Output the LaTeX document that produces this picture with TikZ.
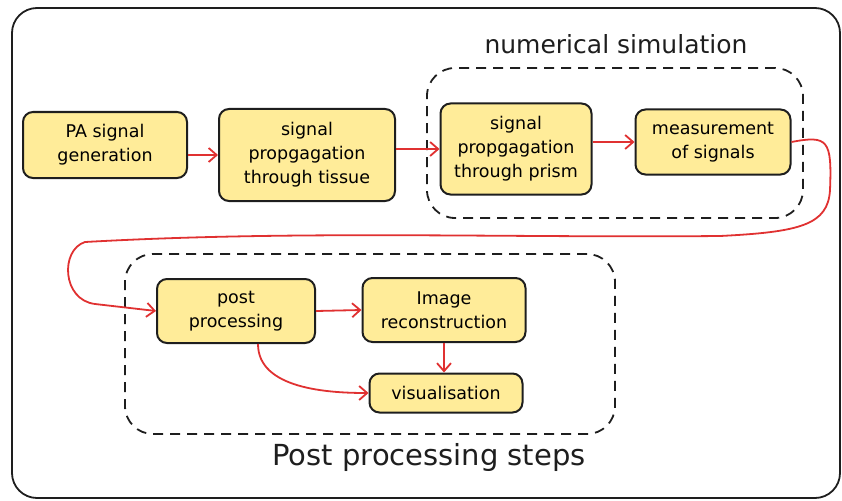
\documentclass[tikz,border=0pt]{standalone}
\usepackage{fontspec}
\setmainfont{DejaVu Sans}
\usetikzlibrary{arrows.meta}
\definecolor{stageyellow}{HTML}{FFEC99}
\definecolor{inkgray}{HTML}{1E1E1E}
\definecolor{flowred}{HTML}{E03131}
\tikzset{
  stage/.style={draw=inkgray, line width=2pt, fill=stageyellow, rounded corners=10pt,
    align=center, inner sep=0pt, font=\fontsize{17.5}{24}\selectfont},
  group/.style={draw=inkgray, line width=1.8pt, dash pattern=on 10pt off 7pt,
    rounded corners=28pt, inner sep=0pt},
  grouplabel/.style={text=inkgray, inner sep=0pt},
  flow/.style={draw=flowred, line width=1.8pt, -{Straight Barb[length=8pt,width=14pt]}}
}
\begin{document}
\begin{tikzpicture}[x=1pt,y=-1pt]
  \useasboundingbox (0,0) rectangle (842,500);
  \draw[inkgray,line width=1.8pt,rounded corners=25pt] (12,8) rectangle (840,498);
  % dashed groups
  \node[group,minimum width=376pt,minimum height=150pt] (simgroup) at (615,143) {};
  \node[group,minimum width=490pt,minimum height=180pt] (postgroup) at (370,344) {};
  \node[grouplabel,font=\fontsize{25}{30}\selectfont] (simlabel) at (616,44) {numerical simulation};
  \node[grouplabel,font=\fontsize{29}{34}\selectfont] (postlabel) at (429,457) {Post processing steps};
  % stages
  \node[stage,minimum width=164pt,minimum height=66pt] (gen) at (105,145) {PA signal\\generation};
  \node[stage,minimum width=176pt,minimum height=92pt] (tissue) at (307,155) {signal\\propgagation\\through tissue};
  \node[stage,minimum width=151pt,minimum height=91pt] (prism) at (516,149) {signal\\propgagation\\through prism};
  \node[stage,minimum width=155pt,minimum height=65pt] (meas) at (713,142) {measurement\\of signals};
  \node[stage,minimum width=158pt,minimum height=64pt] (post) at (236,311) {post\\processing};
  \node[stage,minimum width=163pt,minimum height=64pt] (recon) at (444,310) {Image\\reconstruction};
  \node[stage,minimum width=153pt,minimum height=39pt] (viz) at (446,393) {visualisation};
  % arrows
  \draw[flow] (gen.east |- tissue.west) -- (tissue.west);
  \draw[flow] (tissue.east |- prism.west) -- (prism.west);
  \draw[flow] (prism.east |- meas.west) -- (meas.west);
  \draw[flow] (meas.east) .. controls (828,135) and (832,140) .. (830,190)
    .. controls (828,225) and (800,232) .. (720,236)
    .. controls (500,238) and (300,230) .. (85,242)
    .. controls (60,250) and (62,300) .. (95,304) -- (post.west);
  \draw[flow] (post.east) -- (recon.west);
  \draw[flow] (recon.south) -- (recon.south |- viz.north);
  \draw[flow] ([xshift=22pt]post.south) .. controls +(0,45) and +(-40,0) .. (viz.west);
\end{tikzpicture}
\end{document}
